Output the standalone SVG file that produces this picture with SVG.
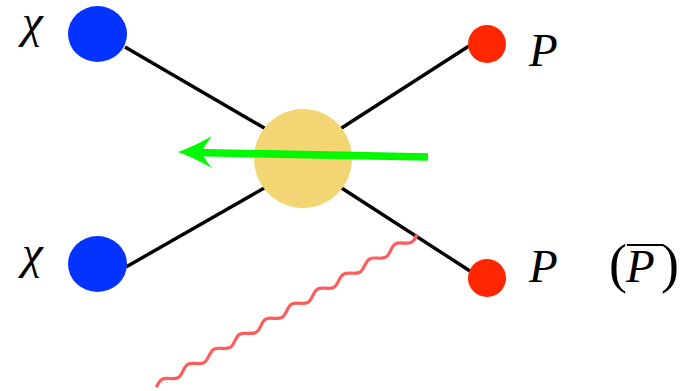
<svg xmlns="http://www.w3.org/2000/svg" width="691" height="391" viewBox="0 0 691 391">
<style>
.edge{stroke:#000;stroke-width:3.4;fill:none;stroke-linecap:butt}
.lbl{font-family:'Liberation Serif','Times New Roman',serif;font-style:italic;font-size:47px;fill:#000}
.chi{font-family:'Liberation Serif','Times New Roman',serif;font-style:italic;font-size:47px;fill:#000}
.up{font-family:'Liberation Serif','Times New Roman',serif;font-style:normal;font-size:54px;fill:#000}
.blue{fill:#0433ff}
.red{fill:#ff2600}
</style>
<rect width="691" height="391" fill="#fff"/>
<g id="connectors">
<line class="edge" x1="125" y1="47" x2="266" y2="129"/>
<line class="edge" x1="340" y1="129" x2="469" y2="46"/>
<line class="edge" x1="266" y1="187" x2="126" y2="267"/>
<line class="edge" x1="340" y1="187" x2="470" y2="271"/>
</g>
<g id="vertex">
<ellipse cx="303" cy="158.5" rx="49" ry="49.5" fill="#f3d574"/>
</g>
<g id="chi-top">
<ellipse class="blue" cx="97.5" cy="34" rx="29.5" ry="28"/>
<text class="chi" x="22" y="37">χ</text>
</g>
<g id="chi-bottom">
<ellipse class="blue" cx="97.5" cy="264" rx="29.5" ry="28"/>
<text class="chi" x="22" y="268">χ</text>
</g>
<g id="p-top">
<ellipse class="red" cx="487" cy="44" rx="19" ry="19"/>
<text class="lbl" x="529" y="66">P</text>
</g>
<g id="p-bottom">
<ellipse class="red" cx="487" cy="278" rx="19" ry="19"/>
<text class="lbl" x="529" y="282">P</text>
<text class="up" x="609" y="282">(</text>
<text class="lbl" x="626" y="282">P</text>
<line x1="627" y1="245" x2="663" y2="245" stroke="#000" stroke-width="2"/>
<text class="up" x="661" y="282">)</text>
</g>
<g id="momentum-arrow">
<line x1="428" y1="157" x2="196" y2="152.5" stroke="#00f900" stroke-width="7.5"/>
<path d="M178,152 C190,148 203,141 212,136 C206,144 203,148 202,152.3 C203,156 206,161 212,168 C203,163 190,156 178,152 Z" fill="#00f900"/>
</g>
<g id="photon">
<path transform="translate(157,386) rotate(-30.1)" d="M0,0 c6.37,-4.4 8.63,-4.4 15,0 s8.63,4.4 15,0 s8.63,-4.4 15,0 s8.63,4.4 15,0 s8.63,-4.4 15,0 s8.63,4.4 15,0 s8.63,-4.4 15,0 s8.63,4.4 15,0 s8.63,-4.4 15,0 s8.63,4.4 15,0 s8.63,-4.4 15,0 s8.63,4.4 15,0 s8.63,-4.4 15,0 s8.63,4.4 15,0 s8.63,-4.4 15,0 s8.63,4.4 15,0 s8.63,-4.4 15,0 s8.63,4.4 15,0 s8.63,-4.4 15,0 s8.63,4.4 15,0" fill="none" stroke="#ff5c5c" stroke-width="3.2" stroke-linecap="round"/>
</g>
</svg>
